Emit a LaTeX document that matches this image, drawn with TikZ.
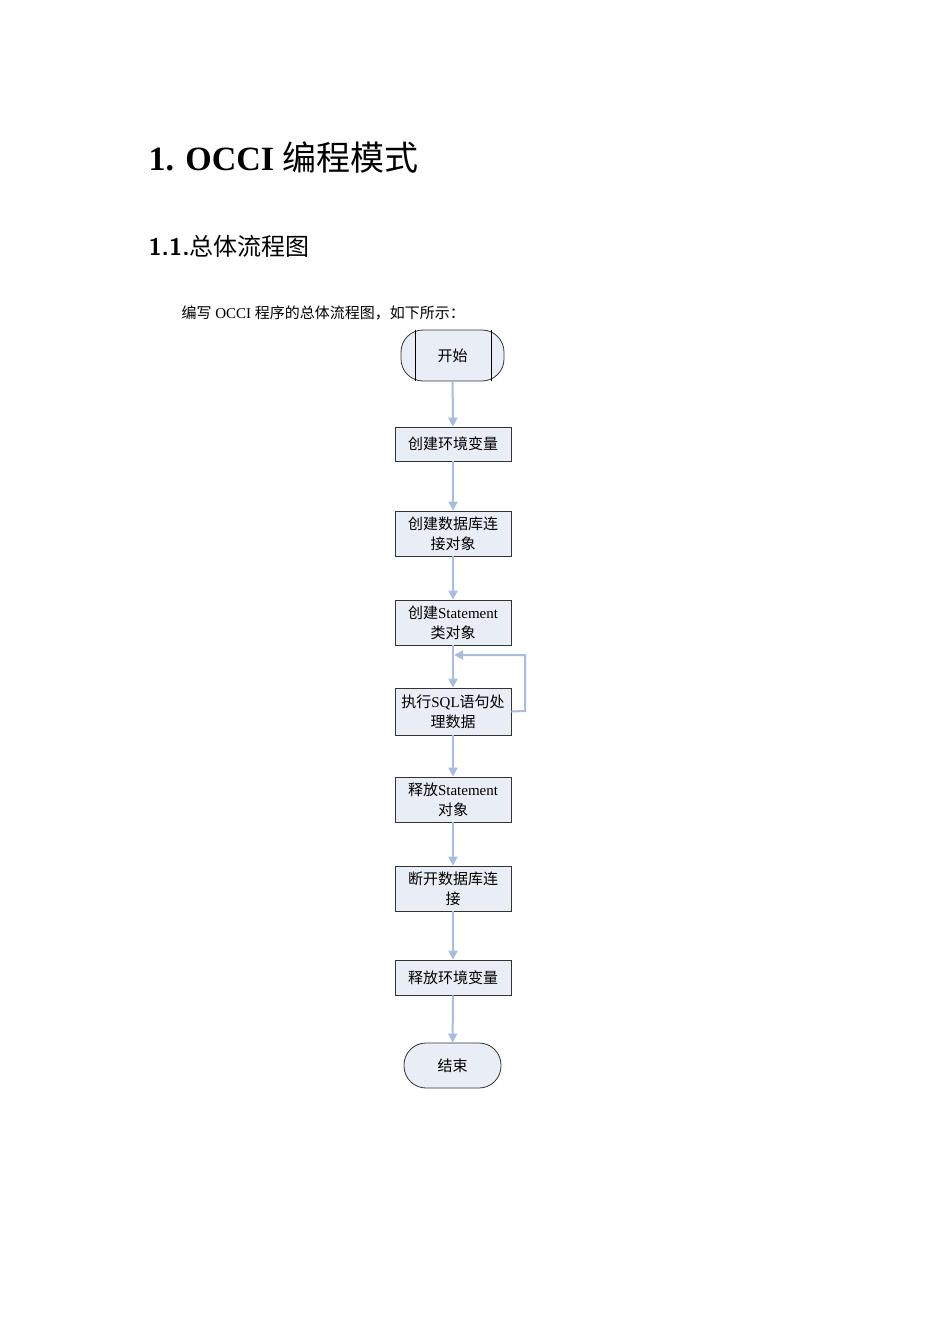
\documentclass[tikz,border=0pt]{standalone}
\usepackage{fontspec}
\setmainfont{Liberation Serif}
\newfontfamily\cjk{Noto Sans CJK SC}
\newcommand{\C}[1]{{\cjk #1}}
\usetikzlibrary{arrows.meta}
\begin{document}
\begin{tikzpicture}[x=1pt,y=-1pt,
  box/.style={draw=black!80,fill=fillc,minimum width=116pt,line width=0.8pt,align=center,font=\fontsize{15}{20}\selectfont,inner sep=1pt},
  arr/.style={draw=arrc,line width=2pt,-{Triangle[width=9pt,length=9pt]}}]
\definecolor{fillc}{HTML}{E9EDF6}
\definecolor{arrc}{HTML}{A9BCDB}
\useasboundingbox (0,0) rectangle (950,1344);
\node[anchor=base west,font=\fontsize{34}{40}\selectfont\bfseries] (t1) at (145,170) {1. OCCI \C{\mdseries 编程模式}};
\node[anchor=base west,font=\fontsize{24}{30}\selectfont] (t2) at (145,255) {\textsf{\bfseries 1.1.}\C{总体流程图}};
\node[anchor=base west,font=\fontsize{15}{20}\selectfont] (t3) at (178,318) {\C{编写} OCCI \C{程序的总体流程图，如下所示：}};
% start
\node[box,minimum width=103pt,minimum height=51pt,rounded corners=22pt] (s) at (452.5,355.5) {\C{开始}};
\draw[line width=0.8pt] (415,330)--(415,381) (491,330)--(491,381);
\node[box,minimum height=34pt] (b1) at (453,444) {\C{创建环境变量}};
\node[box,minimum height=45pt] (b2) at (453,533.5) {\C{创建数据库连}\\\C{接对象}};
\node[box,minimum height=45pt] (b3) at (453,622.5) {\C{创建}Statement\\\C{类对象}};
\node[box,minimum height=47pt] (b4) at (453,711.5) {\C{执行}SQL\C{语句处}\\\C{理数据}};
\node[box,minimum height=45pt] (b5) at (453,799.5) {\C{释放}Statement\\\C{对象}};
\node[box,minimum height=45pt] (b6) at (453,888.5) {\C{断开数据库连}\\\C{接}};
\node[box,minimum height=35pt] (b7) at (453,977.5) {\C{释放环境变量}};
\node[box,minimum width=97pt,minimum height=45pt,rounded corners=22pt] (e) at (452.5,1065.5) {\C{结束}};
\draw[arr] (s)--(b1);
\draw[arr] (b1)--(b2);
\draw[arr] (b2)--(b3);
\draw[arr] (b3)--(b4);
\draw[arr] (b4)--(b5);
\draw[arr] (b5)--(b6);
\draw[arr] (b6)--(b7);
\draw[arr] (b7)--(e);
\coordinate (lp) at (454,655);
\draw[arr] (b4.east) -- (525,711) -- (525,655) -- (lp);
\end{tikzpicture}
\end{document}
